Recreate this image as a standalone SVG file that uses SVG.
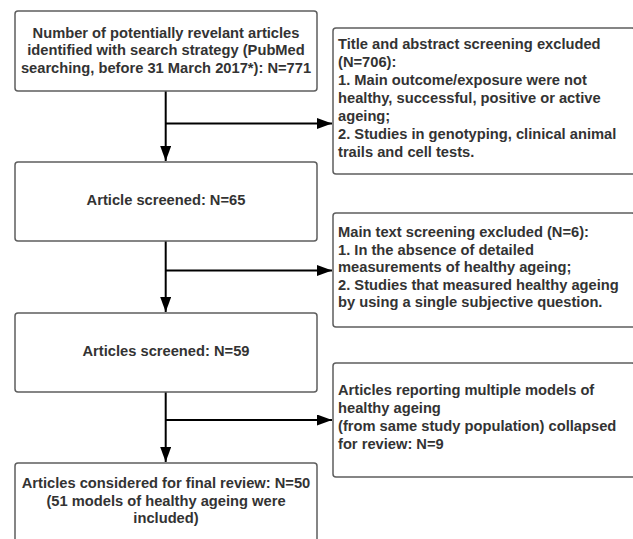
<svg xmlns="http://www.w3.org/2000/svg" width="633" height="539" viewBox="0 0 633 539">
<style>
.box{fill:#fff;stroke:#5e5e5e;stroke-width:1.5}
.t{font-family:"Liberation Sans",Arial,sans-serif;font-weight:bold;font-size:14.7px;fill:#333}
.c{text-anchor:middle}
.ln{fill:none;stroke:#000;stroke-width:2}
</style>
<defs>
<marker id="ah" markerWidth="15" markerHeight="11" refX="15" refY="5.5" orient="auto" markerUnits="userSpaceOnUse">
<path d="M0,0 L15,5.5 L0,11 Z" fill="#000"/>
</marker>
</defs>
<g id="connectors">
<line class="ln" x1="165.7" y1="91" x2="165.7" y2="161" marker-end="url(#ah)"/>
<line class="ln" x1="165.7" y1="123.5" x2="332" y2="123.5" marker-end="url(#ah)"/>
<line class="ln" x1="165.7" y1="241" x2="165.7" y2="312" marker-end="url(#ah)"/>
<line class="ln" x1="165.7" y1="270.5" x2="332" y2="270.5" marker-end="url(#ah)"/>
<line class="ln" x1="165.7" y1="392" x2="165.7" y2="462" marker-end="url(#ah)"/>
<line class="ln" x1="165.7" y1="420" x2="332" y2="420" marker-end="url(#ah)"/>
</g>
<g id="n1">
<rect class="box" x="15" y="11" width="302" height="80" rx="3"/>
<text class="t c" x="166" y="37.5">Number of potentially revelant articles</text>
<text class="t c" x="166" y="55">identified with search strategy (PubMed</text>
<text class="t c" x="166" y="72.5">searching, before 31 March 2017*): N=771</text>
</g>
<g id="n2">
<rect class="box" x="333" y="28" width="302" height="146" rx="3"/>
<text class="t" x="338" y="49">Title and abstract screening excluded</text>
<text class="t" x="338" y="67">(N=706):</text>
<text class="t" x="338" y="85">1. Main outcome/exposure were not</text>
<text class="t" x="338" y="103">healthy, successful, positive or active</text>
<text class="t" x="338" y="121">ageing;</text>
<text class="t" x="338" y="139">2. Studies in genotyping, clinical animal</text>
<text class="t" x="338" y="157">trails and cell tests.</text>
</g>
<g id="n3">
<rect class="box" x="15" y="162" width="302" height="79" rx="3"/>
<text class="t c" x="166" y="205">Article screened: N=65</text>
</g>
<g id="n4">
<rect class="box" x="333" y="213" width="302" height="114" rx="3"/>
<text class="t" x="338" y="237">Main text screening excluded (N=6):</text>
<text class="t" x="338" y="254.5">1. In the absence of detailed</text>
<text class="t" x="338" y="272">measurements of healthy ageing;</text>
<text class="t" x="338" y="289.5">2. Studies that measured healthy ageing</text>
<text class="t" x="338" y="307">by using a single subjective question.</text>
</g>
<g id="n5">
<rect class="box" x="15" y="313" width="302" height="79" rx="3"/>
<text class="t c" x="166" y="356">Articles screened: N=59</text>
</g>
<g id="n6">
<rect class="box" x="333" y="363" width="302" height="114" rx="3"/>
<text class="t" x="338" y="395">Articles reporting multiple models of</text>
<text class="t" x="338" y="413">healthy ageing</text>
<text class="t" x="338" y="431">(from same study population) collapsed</text>
<text class="t" x="338" y="449">for review: N=9</text>
</g>
<g id="n7">
<rect class="box" x="15" y="463" width="302" height="90" rx="3"/>
<text class="t c" x="166" y="488">Articles considered for final review: N=50</text>
<text class="t c" x="166" y="505.5">(51 models of healthy ageing were</text>
<text class="t c" x="166" y="523">included)</text>
</g>
</svg>
